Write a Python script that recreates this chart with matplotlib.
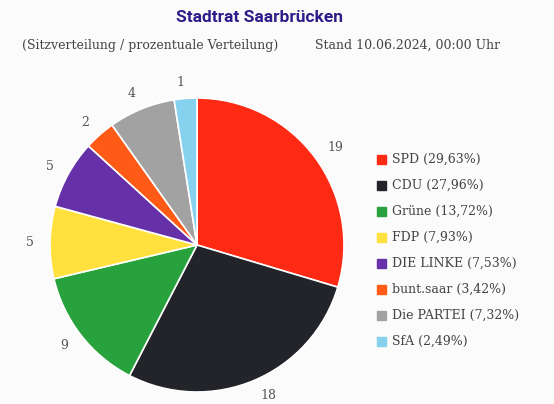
import numpy as np
import matplotlib.pyplot as plt
from matplotlib.patches import Rectangle

# DATA -------------------
parties = ["SPD", "CDU", "Grüne", "FDP", "DIE LINKE", "bunt.saar", "Die PARTEI", "SfA"]
seats = [19, 18, 9, 5, 5, 2, 4, 1]
percent = [29.63, 27.96, 13.72, 7.93, 7.53, 3.42, 7.32, 2.49]
colors = ["#ff2a14", "#22242a", "#28a23c", "#ffe03c", "#6530a8", "#ff5a16", "#a2a2a2", "#86d2ee"]

title = "Stadtrat Saarbrücken"
subtitle = "(Sitzverteilung / prozentuale Verteilung)"
stand = "Stand 10.06.2024, 00:00 Uhr"

# PLOTTING -------------
serif = "DejaVu Serif"
fig = plt.figure(figsize=(5.54, 4.04), dpi=100, facecolor="#fbfbfb")

fig.text(260 / 554, 1 - 17 / 404, title, ha="center", va="center", fontsize=12.5,
         fontweight="bold", color="#2d1c8a", family="Roboto")
fig.text(22 / 554, 1 - 45 / 404, subtitle, ha="left", va="center", fontsize=9,
         color="#444444", family=serif)
fig.text(500 / 554, 1 - 45 / 404, stand, ha="right", va="center", fontsize=9,
         color="#444444", family=serif)

# pie axes: centre ~ (197, 245) px, radius ~147 px
cx, cy, r_px = 197, 245, 147
ax = fig.add_axes([(cx - r_px) / 554, (404 - cy - r_px) / 404,
                   2 * r_px / 554, 2 * r_px / 404])
# wedges sized by percentage, labelled with seats
wedges, texts = ax.pie(percent, labels=[str(s) for s in seats], colors=colors,
                       startangle=90, counterclock=False, labeldistance=1.11,
                       wedgeprops=dict(edgecolor="white", linewidth=1.2),
                       textprops=dict(fontsize=9, color="#555555", family=serif))
ax.set_aspect("equal")
ax.set_xlim(-1, 1)
ax.set_ylim(-1, 1)

# legend
y0 = 404 - 159
for i, (p, pc, c) in enumerate(zip(parties, percent, colors)):
    y = (y0 - i * 26.1) / 404
    fig.patches.append(Rectangle((377 / 554, y - 4.5 / 404), 9 / 554, 9 / 404,
                                 transform=fig.transFigure, color=c))
    pct = f"{pc:.2f}".replace(".", ",")
    fig.text(392 / 554, y, f"{p} ({pct}%)", ha="left", va="center",
             fontsize=9, color="#444444", family=serif)

plt.savefig("out.png", dpi=100, facecolor=fig.get_facecolor())
